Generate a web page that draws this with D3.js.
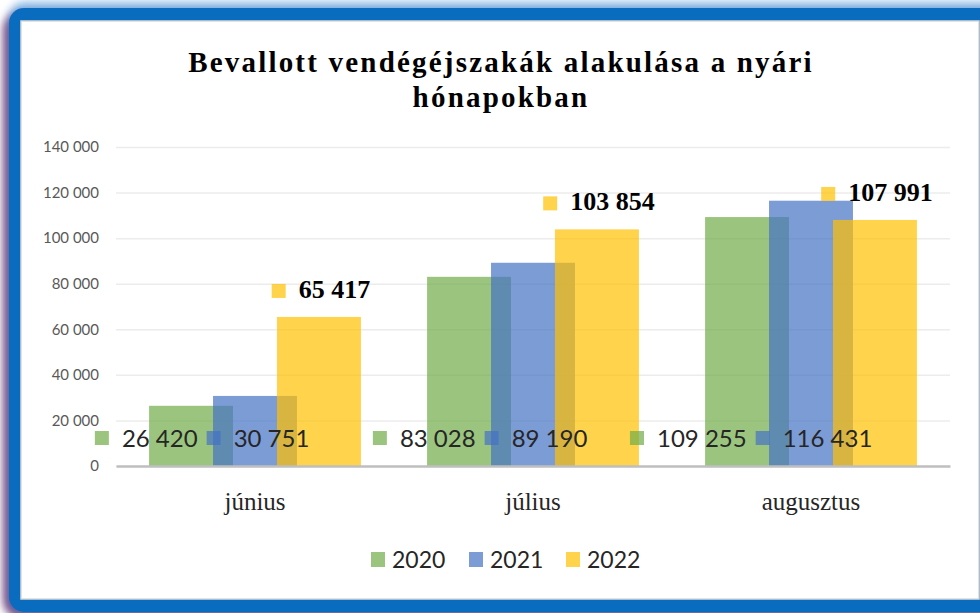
<!DOCTYPE html>
<html>
<head>
<meta charset="utf-8">
<script src="https://cdn.jsdelivr.net/npm/d3@7"></script>
<style>
  body { margin: 0; background: #fff; }
  svg { display: block; }
</style>
</head>
<body>
<div id="chart"></div>
<script>
// chart data
var months = ['június', 'július', 'augusztus'];
var years = ['2020', '2021', '2022'];
var vals2020 = [26420, 83028, 109255];
var vals2021 = [30751, 89190, 116431];
var vals2022 = [65417, 103854, 107991];
var yTicks = [0, 20000, 40000, 60000, 80000, 100000, 120000, 140000];
var colors = ['#70AD47', '#4472C4', '#FFC000'];

var seriesVals = [vals2020, vals2021, vals2022];

var width = 980, height = 613;

var svg = d3.select('#chart')
    .append('svg')
    .attr('width', width)
    .attr('height', height);

var defs = svg.append('defs');
defs.append('filter').attr('id', 'blur4')
    .attr('x', '-10%').attr('y', '-10%').attr('width', '120%').attr('height', '120%')
    .append('feGaussianBlur').attr('stdDeviation', 4);

// frame: shadow, blue border, white panel
svg.append('rect')
    .attr('x', 3).attr('y', 12).attr('width', 1000).attr('height', 606)
    .attr('rx', 18)
    .attr('fill', '#7b4a80')
    .attr('filter', 'url(#blur4)');
svg.append('rect')
    .attr('x', 9).attr('y', 2).attr('width', 1000).attr('height', 612)
    .attr('rx', 16)
    .attr('fill', '#3b8ad6')
    .attr('opacity', 0.6)
    .attr('filter', 'url(#blur4)');
svg.append('rect')
    .attr('x', 9).attr('y', 8).attr('width', 1000).attr('height', 604)
    .attr('rx', 15)
    .attr('fill', '#0A6CBF');
svg.append('rect')
    .attr('x', 21).attr('y', 21).attr('width', 958).attr('height', 578)
    .attr('fill', '#fff')
    .attr('stroke', '#d9d9d9')
    .attr('stroke-width', 1.5);

// title
var title = svg.append('text')
    .attr('x', 501)
    .attr('text-anchor', 'middle')
    .style('font-family', '"Liberation Serif", serif')
    .style('font-weight', 'bold')
    .style('font-size', '29px')
    .style('letter-spacing', '2.2px')
    .attr('fill', '#000');
title.append('tspan').attr('x', 501).attr('y', 72).text('Bevallott vendégéjszakák alakulása a nyári');
title.append('tspan').attr('x', 501).attr('y', 107).text('hónapokban');

// scales
var x0 = d3.scaleBand()
    .domain(months)
    .range([116, 950])
    .paddingInner(0)
    .paddingOuter(0);

var y = d3.scaleLinear()
    .domain([0, 140000])
    .range([466, 147]);

var bw = x0.bandwidth();
var barW = bw * 0.302;
var barStep = bw * 0.23;

var fmt = d3.formatLocale({ decimal: ',', thousands: ' ', grouping: [3], currency: ['', ''] }).format(',');

// y axis with gridlines
var yAxis = d3.axisLeft(y)
    .tickValues(yTicks)
    .tickFormat(fmt)
    .tickSizeInner(-(950 - 116))
    .tickSizeOuter(0)
    .tickPadding(17);

var yg = svg.append('g')
    .attr('transform', 'translate(116,0)')
    .call(yAxis);
yg.select('.domain').remove();
yg.selectAll('.tick line')
    .attr('stroke', '#ececec')
    .attr('stroke-width', 1.5);
yg.selectAll('.tick text')
    .style('font-family', 'Lato, sans-serif')
    .style('font-size', '15px')
    .attr('fill', '#595959');

// x axis
var xAxis = d3.axisBottom(x0)
    .tickSize(0)
    .tickPadding(26);
var xg = svg.append('g')
    .attr('transform', 'translate(0,466)')
    .call(xAxis);
xg.select('.domain')
    .attr('stroke', '#bfbfbf')
    .attr('stroke-width', 2.5);
xg.selectAll('.tick text')
    .style('font-family', '"Liberation Serif", serif')
    .style('font-size', '25px')
    .attr('fill', '#262626');
xg.raise();

// bars
function barX(s, i) {
    return x0(months[i]) + bw / 2 + (s - 1) * barStep - barW / 2;
}

var barLayer = svg.insert('g', function(){ return xg.node(); });
seriesVals.forEach(function(vals, s){
    barLayer.append('g')
        .selectAll('rect')
        .data(vals)
        .enter()
        .append('rect')
        .attr('x', function(d, i){ return barX(s, i); })
        .attr('y', function(d){ return y(d); })
        .attr('width', barW)
        .attr('height', function(d){ return y(0) - y(d); })
        .attr('fill', colors[s])
        .attr('fill-opacity', 0.7);
});

// data labels with key squares
var labelLayer = svg.append('g');
function addLabel(cx, baseline, value, color, bold) {
    var g = labelLayer.append('g');
    var t = g.append('text')
        .attr('y', baseline)
        .text(fmt(value))
        .attr('fill', bold ? '#000' : '#262626')
        .style('font-family', bold ? '"Liberation Serif", serif' : 'Lato, sans-serif')
        .style('font-weight', bold ? 'bold' : 'normal')
        .style('font-size', bold ? '26px' : '24px');
    var tw = t.node().getComputedTextLength();
    var total = 14 + 13 + tw;
    var left = cx - total / 2;
    g.insert('rect', 'text')
        .attr('x', left)
        .attr('y', baseline - (bold ? 14 : 16))
        .attr('width', 14)
        .attr('height', 14)
        .attr('fill', color)
        .attr('fill-opacity', 0.7);
    t.attr('x', left + 27);
    return { left: left, right: left + total };
}

months.forEach(function(m, i){
    // 2021 label centered on its bar, 2020 label pushed to its left
    var blueC = barX(1, i) + barW / 2 + 3;
    var b = addLabel(blueC, 447, vals2021[i], colors[1], false);
    var gt = labelLayer.append('text').text(fmt(vals2020[i]))
        .style('font-family', 'Lato, sans-serif').style('font-size', '24px');
    var gw = gt.node().getComputedTextLength();
    gt.remove();
    var gEnd = b.left - 9;
    addLabel(gEnd - (27 + gw) / 2, 447, vals2020[i], colors[0], false);

    var yelC = barX(2, i) + barW / 2 + 2;
    addLabel(yelC, y(vals2022[i]) - 19, vals2022[i], colors[2], true);
});

// legend
var legend = svg.append('g');
var legX = [371, 469, 566];
years.forEach(function(yr, s){
    legend.append('rect')
        .attr('x', legX[s])
        .attr('y', 552)
        .attr('width', 14)
        .attr('height', 15)
        .attr('fill', colors[s])
        .attr('fill-opacity', 0.7);
    legend.append('text')
        .attr('x', legX[s] + 21)
        .attr('y', 568)
        .text(yr)
        .style('font-family', 'Lato, sans-serif')
        .style('font-size', '23px')
        .attr('fill', '#262626');
});
</script>
</body>
</html>
